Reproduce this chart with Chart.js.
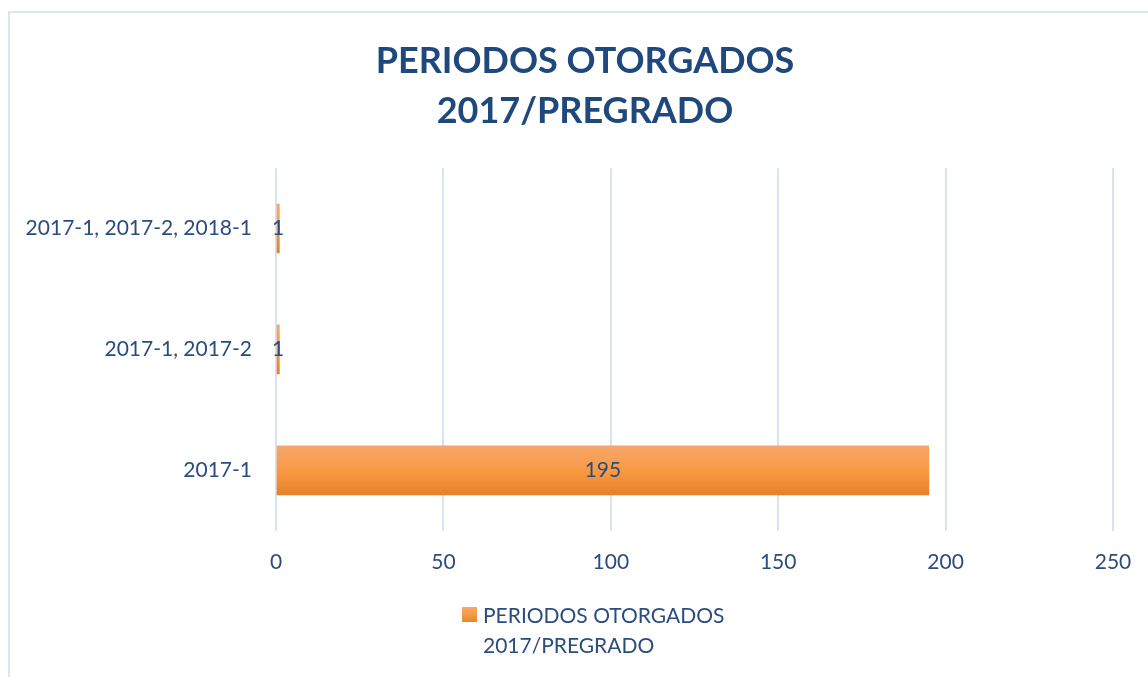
<!DOCTYPE html>
<html>
<head>
<meta charset="utf-8">
<script src="https://cdn.jsdelivr.net/npm/chart.js@4.4.1/dist/chart.umd.min.js"></script>
<style>
  html, body { margin: 0; padding: 0; background: #fff; overflow: hidden; }
  body { width: 1148px; height: 677px; position: relative; font-family: Lato, "Open Sans", sans-serif; }
  #wrap { position: absolute; left: 8px; top: 11px; width: 1154px; height: 680px; }
  #frame { position: absolute; left: 8px; top: 11px; width: 1160px; height: 690px;
           border: 2px solid #dbe5f3; box-sizing: border-box; pointer-events: none; }
  #legend { position: absolute; left: 462px; top: 600px; color: #2b4c7e;
            font-size: 21px; line-height: 30px; display: flex; align-items: flex-start; }
  #legend .box { width: 15px; height: 15px; margin: 7px 6px 0 0;
                 background: linear-gradient(#f7a96e, #f59a45 50%, #e8842f); }
</style>
</head>
<body>
<div id="wrap"><canvas id="chart" width="1154" height="680"></canvas></div>
<div id="frame"></div>
<div id="legend"><span class="box"></span><span class="txt"></span></div>
<script>
const categories = ['2017-1, 2017-2, 2018-1', '2017-1, 2017-2', '2017-1'];
const values = [1, 1, 195];
const seriesName = ['PERIODOS OTORGADOS', '2017/PREGRADO'];
const titleLines = ['PERIODOS OTORGADOS', '2017/PREGRADO'];
const xTicks = [0, 50, 100, 150, 200, 250];

const FONT = 'Lato, "Open Sans", sans-serif';
const TEXT = '#2b4c7e';
const BAR_H = 49;

document.querySelector('#legend .txt').innerHTML = seriesName.join('<br>');

function barFill(ctx) {
    const chart = ctx.chart;
    const y = chart.scales.y;
    if (!chart.chartArea || !y || ctx.dataIndex === undefined) return '#f59b45';
    const c = y.getPixelForValue(ctx.dataIndex);
    const g = chart.ctx.createLinearGradient(0, c - BAR_H / 2, 0, c + BAR_H / 2);
    g.addColorStop(0, '#f6a66b');
    g.addColorStop(0.5, '#f99a42');
    g.addColorStop(1, '#e6812b');
    return g;
}

// value labels centred in each bar
const barLabels = {
    id: 'barLabels',
    afterDatasetsDraw(chart) {
        const ctx = chart.ctx;
        const meta = chart.getDatasetMeta(0);
        ctx.save();
        ctx.font = '21px ' + FONT;
        ctx.fillStyle = TEXT;
        ctx.textAlign = 'center';
        ctx.textBaseline = 'middle';
        meta.data.forEach((bar, i) => {
            const cx = (bar.x + bar.base) / 2;
            ctx.fillText(String(values[i]), cx, bar.y);
        });
        ctx.restore();
    }
};

new Chart(document.getElementById('chart'), {
    type: 'bar',
    data: {
        labels: categories,
        datasets: [{
            label: seriesName.join(' '),
            data: values,
            backgroundColor: barFill,
            borderWidth: 0,
            barThickness: BAR_H,
        }]
    },
    options: {
        indexAxis: 'y',
        responsive: false,
        animation: false,
        layout: { padding: { left: 0, right: 0, top: 0, bottom: 97 } },
        plugins: {
            title: {
                display: true,
                text: titleLines,
                color: '#1f497d',
                font: { family: FONT, size: 36, weight: 'bold', lineHeight: 50 / 36 },
                padding: { top: 25, bottom: 32 }
            },
            legend: { display: false },
            tooltip: { enabled: false }
        },
        scales: {
            x: {
                min: 0, max: 250,
                afterBuildTicks: s => { s.ticks = xTicks.map(v => ({ value: v })); },
                grid: { color: '#d6e3f3', lineWidth: 2, drawTicks: false },
                border: { display: false },
                ticks: { color: TEXT, font: { family: FONT, size: 21 }, padding: 19 }
            },
            y: {
                afterFit: s => { s.width = 268; },
                grid: { display: false, drawTicks: false },
                border: { display: false },
                ticks: { color: TEXT, font: { family: FONT, size: 21 }, padding: 24 }
            },
            // empty right-hand strip so the plot ends where the reference does
            yRight: {
                type: 'category',
                position: 'right',
                afterFit: s => { s.width = 49; },
                grid: { display: false, drawTicks: false },
                border: { display: false },
                ticks: { display: false }
            }
        }
    },
    plugins: [barLabels]
});
</script>
</body>
</html>
